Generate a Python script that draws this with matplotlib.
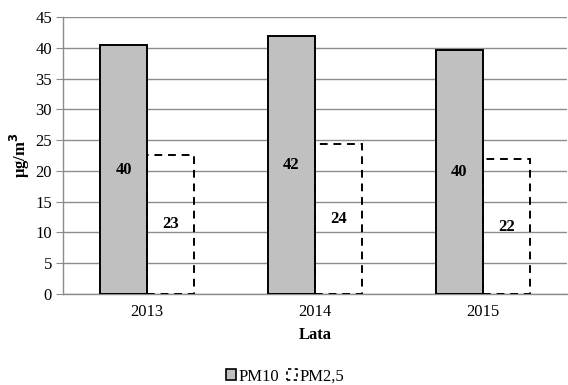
import numpy as np
import matplotlib
matplotlib.use("Agg")
import matplotlib.pyplot as plt
from matplotlib.patches import Patch

# data
years = ["2013", "2014", "2015"]
pm10 = [40.4, 41.9, 39.7]
pm25 = [22.6, 24.3, 21.9]
pm10_labels = ["40", "42", "40"]
pm25_labels = ["23", "24", "22"]

plt.rcParams["font.family"] = ["Liberation Serif", "DejaVu Serif"]

fig = plt.figure(figsize=(5.68, 3.85), dpi=100)
ax = fig.add_axes([0.111, 0.2364, 0.887, 0.7194])

x = np.arange(len(years))
w = 0.28
grid_c = "#8c8c8c"

b1 = ax.bar(x - w / 2, pm10, width=w, color="#c0c0c0", edgecolor="black",
            linewidth=1.4, zorder=3)
b2 = ax.bar(x + w / 2, pm25, width=w, facecolor="none", edgecolor="black",
            linewidth=1.4, linestyle=(0, (4, 3)), zorder=3)

for xi, v, lab in zip(x, pm10, pm10_labels):
    ax.text(xi - w / 2, v / 2, lab, ha="center", va="center",
            fontsize=12, fontweight="bold", zorder=4)
for xi, v, lab in zip(x, pm25, pm25_labels):
    ax.text(xi + w / 2, v / 2, lab, ha="center", va="center",
            fontsize=12, fontweight="bold", zorder=4)

ax.set_xlim(-0.5, 2.5)
ax.set_ylim(0, 45)
ax.set_yticks(range(0, 46, 5))
ax.set_xticks(x)
ax.set_xticklabels(years)
ax.tick_params(axis="x", length=0, labelsize=12, pad=7)
ax.tick_params(axis="y", length=5, color=grid_c, labelsize=12, pad=3)

ax.yaxis.grid(True, color=grid_c, linewidth=1.0, zorder=0)
ax.set_axisbelow(True)
for s in ["top", "right"]:
    ax.spines[s].set_visible(False)
for s in ["left", "bottom"]:
    ax.spines[s].set_color(grid_c)
    ax.spines[s].set_linewidth(1.0)

ax.set_ylabel("μg/m$^\\mathbf{3}$", fontsize=12, fontweight="bold", labelpad=2)
ax.set_xlabel("Lata", fontsize=12, fontweight="bold", labelpad=5)

handles = [Patch(facecolor="#c0c0c0", edgecolor="black", linewidth=1.2),
           Patch(facecolor="none", edgecolor="black", linewidth=1.2,
                 linestyle=(0, (2, 2)))]
fig.legend(handles, ["PM10", "PM2,5"], loc="center", ncol=2,
           bbox_to_anchor=(0.502, 0.022), frameon=False, fontsize=12,
           handlelength=0.6, handleheight=0.6, handletextpad=0.15,
           columnspacing=0.5)

fig.savefig("out.png", dpi=100)
